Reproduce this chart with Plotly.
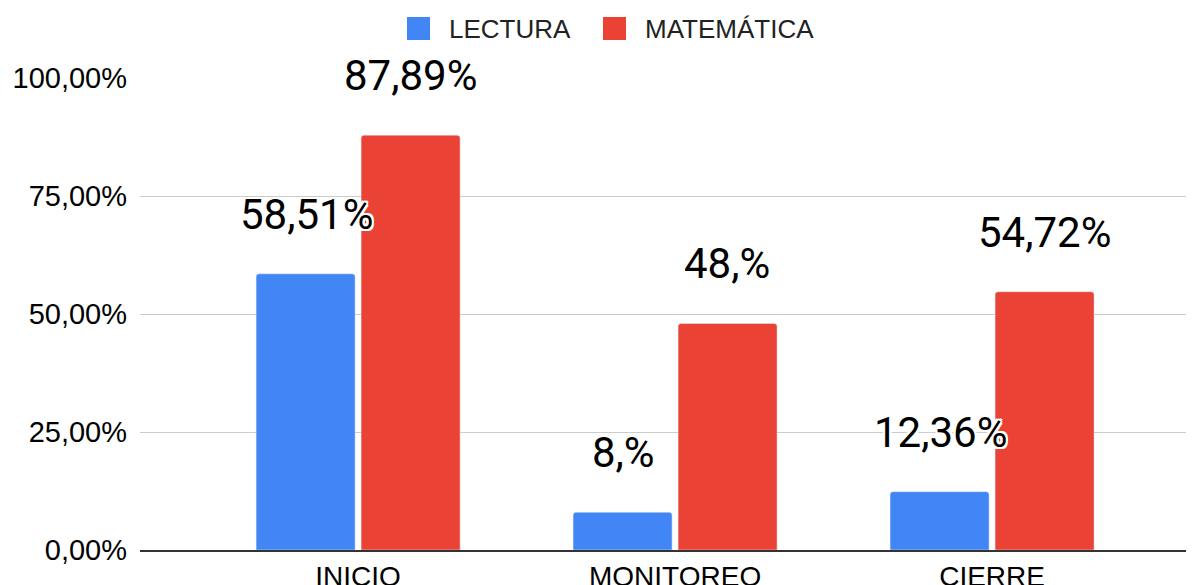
import plotly.graph_objects as go

# datos
etapas = ["INICIO", "MONITOREO", "CIERRE"]
lectura = [58.51, 8, 12.36]
matematica = [87.89, 48, 54.72]
lectura_txt = ["58,51%", "8,%", "12,36%"]
matematica_txt = ["87,89%", "48,%", "54,72%"]
y_ticks = [0, 25, 50, 75, 100]
y_ticktext = ["0,00%", "25,00%", "50,00%", "75,00%", "100,00%"]

AZUL = "#4285F4"
ROJO = "#EA4335"

fig = go.Figure()
fig.add_trace(go.Bar(name="LECTURA", x=etapas, y=lectura, marker_color=AZUL))
fig.add_trace(go.Bar(name="MATEMÁTICA", x=etapas, y=matematica, marker_color=ROJO))

# etiquetas de datos con halo blanco
halo = ("2px 0 0 white, -2px 0 0 white, 0 2px 0 white, 0 -2px 0 white, "
        "2px 2px 0 white, -2px -2px 0 white, 2px -2px 0 white, -2px 2px 0 white")
for serie, textos, dx in [(lectura, lectura_txt, -52), (matematica, matematica_txt, 52)]:
    for et, v, t in zip(etapas, serie, textos):
        fig.add_annotation(x=et, y=v, text=t, showarrow=False, xshift=dx, yshift=33,
                           yanchor="bottom",
                           font=dict(family="Roboto, Arial", size=42, color="black", shadow=halo))

# leyenda dibujada a mano (cuadros grandes); posiciones relativas al area del grafico
W = 1054.0
def px(x):
    return (x - 140) / W
def py(y):
    return (550 - y) / 472.0

for tr, x0 in [(fig.data[0], 407), (fig.data[1], 603)]:
    fig.add_shape(type="rect", xref="paper", yref="paper",
                  x0=px(x0), x1=px(x0 + 23), y0=py(40), y1=py(17),
                  fillcolor=tr.marker.color, line=dict(width=0))
    fig.add_annotation(xref="paper", yref="paper", x=px(x0 + 40), y=py(29),
                       xanchor="left", yanchor="middle", showarrow=False, text=tr.name,
                       font=dict(family="Liberation Sans, Arial", size=26, color="#222"))

# la pagina tiene 8px de margen en body -> compensar
fig.update_layout(
    width=1194, height=585,
    margin=dict(l=132, r=8, t=70, b=43, autoexpand=False),
    paper_bgcolor="white", plot_bgcolor="white",
    barmode="group", bargap=0.3375, bargroupgap=0.057, barcornerradius=3,
    font=dict(family="Liberation Sans, Arial", color="#222"),
    showlegend=False,
)
fig.update_xaxes(range=[-0.688, 2.637], showline=True, linecolor="#333", linewidth=2,
                 tickfont=dict(size=28, color="black"), ticks="", ticklabelstandoff=0,
                 automargin=False)
fig.update_yaxes(range=[0, 100], tickvals=y_ticks, ticktext=y_ticktext,
                 gridcolor="#ccc", gridwidth=1, zeroline=False, automargin=False,
                 tickfont=dict(size=29, color="black"), ticklabelstandoff=12)

fig.write_html("out.html")
